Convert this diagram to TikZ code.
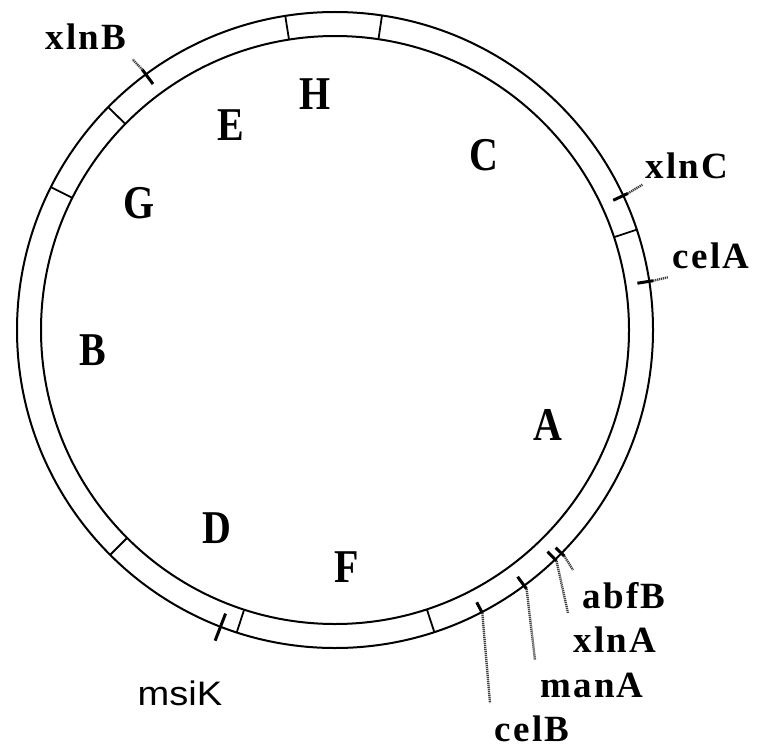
\documentclass[tikz,border=0pt]{standalone}
\usepackage{fontspec}
\setsansfont{Liberation Sans}
\newfontfamily\genefont[LetterSpace=6]{Liberation Serif}
\newfontfamily\regfont{Liberation Serif}
\usetikzlibrary{calc}
\newcommand\regtext[1]{\scalebox{0.85}[1]{#1}}
\newcommand\sanstext[1]{\scalebox{1.12}[1]{#1}}
\begin{document}
\begin{tikzpicture}[x=1pt,y=1pt,
  ringline/.style={line width=2pt},
  divider/.style={line width=1.8pt},
  genetick/.style={line width=3pt},
  leader/.style={line width=2.4pt, black!75, dash pattern=on 1.2pt off 0.8pt},
  region/.style={font=\regfont\fontsize{47}{47}\selectfont\bfseries, inner sep=0pt, anchor=base},
  genelabel/.style={font=\genefont\fontsize{37}{37}\selectfont\bfseries, inner sep=0pt, anchor=base},
  sanslabel/.style={font=\fontsize{34}{34}\selectfont\sffamily, inner sep=0pt, anchor=base},
]
\useasboundingbox (0,0) rectangle (762,-749);
\coordinate (O) at (335,-330);
% ring
\draw[ringline] (O) circle[radius=318];
\draw[ringline] (O) circle[radius=294];
% segment dividers
\foreach \a in {99,81.5,135.5,153.3,18.4,225,252,288.2}
  \draw[divider] ($(O)+(\a:294)$) -- ($(O)+(\a:318)$);
% region labels
\node[region] (H) at (315,-110) {\regtext{H}};
\node[region] (E) at (231,-140) {\regtext{E}};
\node[region] (G) at (139,-218) {\regtext{G}};
\node[region] (B) at (93,-365) {\regtext{B}};
\node[region] (C) at (484,-170) {\regtext{C}};
\node[region] (A) at (548,-440) {\regtext{A}};
\node[region] (D) at (217,-543) {\regtext{D}};
\node[region] (F) at (347,-582) {\regtext{F}};
% gene ticks
\coordinate (xlnBi) at ($(O)+(126.5:306)$);
\coordinate (xlnBo) at ($(O)+(126.5:324)$);
\coordinate (xlnBe) at ($(O)+(126.8:338)$);
\coordinate (xlnCi) at ($(O)+(25:307)$);
\coordinate (xlnCo) at ($(O)+(25:323)$);
\coordinate (xlnCe) at ($(O)+(25.3:340)$);
\coordinate (celAi) at ($(O)+(8.8:306)$);
\coordinate (celAo) at ($(O)+(8.8:322)$);
\coordinate (celAe) at ($(O)+(9:337)$);
\coordinate (msiKi) at ($(O)+(248.9:304)$);
\coordinate (msiKo) at ($(O)+(248.9:333)$);
\coordinate (celBi) at ($(O)+(-62.5:307)$);
\coordinate (celBo) at ($(O)+(-62.5:319)$);
\coordinate (celBe) at (490,-703);
\coordinate (manAi) at ($(O)+(-53.5:307)$);
\coordinate (manAo) at ($(O)+(-53.5:322)$);
\coordinate (manAe) at (535,-660);
\coordinate (xlnAi) at ($(O)+(-46.2:307)$);
\coordinate (xlnAo) at ($(O)+(-46.2:320)$);
\coordinate (xlnAe) at (568,-613);
\coordinate (abfBi) at ($(O)+(-44.6:310)$);
\coordinate (abfBo) at ($(O)+(-44.6:322)$);
\coordinate (abfBe) at (573,-570);
\foreach \g in {xlnB,xlnC,celA,msiK,celB,manA,xlnA,abfB}
  \draw[genetick] (\g i) -- (\g o);
\foreach \g in {xlnB,xlnC,celA,celB,manA,xlnA,abfB}
  \draw[leader] (\g o) -- (\g e);
% gene labels
\node[genelabel] (LxlnB) at (86,-50) {xlnB};
\node[genelabel] (LxlnC) at (687,-178) {xlnC};
\node[genelabel] (LcelA) at (711,-268) {celA};
\node[genelabel] (LabfB) at (624,-608) {abfB};
\node[genelabel] (LxlnA) at (615,-652) {xlnA};
\node[genelabel] (LmanA) at (592,-697) {manA};
\node[genelabel] (LcelB) at (532,-741) {celB};
\node[sanslabel] (LmsiK) at (180,-705) {\sanstext{msiK}};
\end{tikzpicture}
\end{document}
